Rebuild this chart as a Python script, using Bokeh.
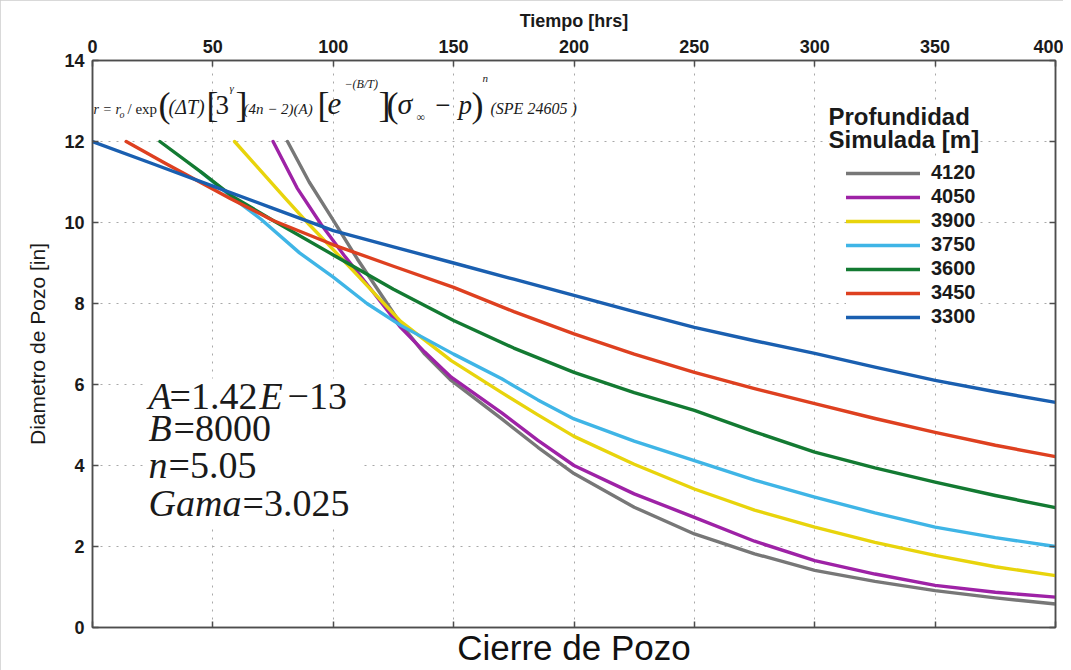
from bokeh.plotting import figure
from bokeh.models import (LinearAxis, FixedTicker, Legend, LegendItem, Label,
                          BoxAnnotation, Range1d)
from bokeh.embed import file_html
from bokeh.resources import INLINE

# ---------------- data ----------------
x_ticks = [0, 50, 100, 150, 200, 250, 300, 350, 400]
y_ticks = [0, 2, 4, 6, 8, 10, 12, 14]

depths = ["4120", "4050", "3900", "3750", "3600", "3450", "3300"]

x_4120 = [81, 90, 99, 110, 128, 138, 149, 170, 185, 200, 225, 250, 275, 300, 325, 350, 375, 400]
y_4120 = [12.0, 11.0, 10.15, 9.1, 7.5, 6.75, 6.1, 5.15, 4.45, 3.8, 2.97, 2.31, 1.82, 1.41, 1.14, 0.91, 0.73, 0.58]

x_4050 = [75, 85, 95, 105, 115, 128, 138, 149, 170, 185, 200, 225, 250, 275, 300, 325, 350, 375, 400]
y_4050 = [12.0, 10.85, 9.95, 9.15, 8.4, 7.41, 6.8, 6.18, 5.3, 4.62, 4.0, 3.3, 2.72, 2.13, 1.65, 1.32, 1.04, 0.87, 0.75]

x_3900 = [59, 70, 80, 90, 100, 110, 128, 149, 170, 185, 200, 225, 250, 275, 300, 325, 350, 375, 400]
y_3900 = [12.0, 11.27, 10.6, 9.95, 9.33, 8.7, 7.56, 6.59, 5.8, 5.25, 4.72, 4.03, 3.42, 2.9, 2.48, 2.1, 1.78, 1.5, 1.28]

x_3750 = [45, 58, 70, 86, 100, 114, 128, 150, 170, 185, 200, 225, 250, 275, 300, 325, 350, 375, 400]
y_3750 = [11.25, 10.62, 10.08, 9.25, 8.65, 8.0, 7.46, 6.75, 6.14, 5.62, 5.15, 4.6, 4.12, 3.64, 3.22, 2.83, 2.48, 2.22, 2.0]

x_3600 = [28, 45, 58, 75, 100, 125, 150, 175, 200, 225, 250, 275, 300, 325, 350, 375, 400]
y_3600 = [12.0, 11.25, 10.65, 10.05, 9.2, 8.35, 7.58, 6.9, 6.3, 5.8, 5.36, 4.83, 4.33, 3.94, 3.59, 3.26, 2.96]

x_3450 = [14, 30, 57, 75, 100, 125, 150, 175, 200, 225, 250, 275, 300, 325, 350, 375, 400]
y_3450 = [12.0, 11.47, 10.6, 10.05, 9.45, 8.92, 8.4, 7.8, 7.25, 6.75, 6.3, 5.9, 5.53, 5.16, 4.82, 4.5, 4.22]

x_3300 = [0, 25, 50, 75, 100, 125, 150, 175, 200, 225, 250, 275, 300, 325, 350, 375, 400]
y_3300 = [12.0, 11.45, 10.9, 10.35, 9.8, 9.4, 9.0, 8.6, 8.2, 7.8, 7.41, 7.08, 6.77, 6.43, 6.1, 5.82, 5.56]

series_x = [x_4120, x_4050, x_3900, x_3750, x_3600, x_3450, x_3300]
series_y = [y_4120, y_4050, y_3900, y_3750, y_3600, y_3450, y_3300]
colors = ["#777777", "#9e22a6", "#e8d40c", "#3fb5e6", "#137a32", "#de4020", "#1a5fb0"]

# ---------------- figure ----------------
W, H = 1063, 670
FL, FR, FT, FB = 92, 8, 60, 43   # borders (figure-relative)

p = figure(width=W, height=H, x_range=Range1d(0, 400), y_range=Range1d(0, 14),
           x_axis_location="above", output_backend="svg", toolbar_location=None,
           min_border_left=FL, min_border_right=FR, min_border_top=FT,
           min_border_bottom=FB, background_fill_color="white",
           border_fill_color="white")
p.outline_line_color = "#4d4d4d"
p.outline_line_width = 1.5

AX_COL = "#4d4d4d"
TICK_FONT = "Liberation Sans"


def style_axis(ax, ticks, labels=True):
    ax.ticker = FixedTicker(ticks=ticks)
    ax.axis_line_color = AX_COL
    ax.axis_line_width = 1.5
    ax.major_tick_line_color = AX_COL
    ax.major_tick_line_width = 1.5
    ax.major_tick_in = 6
    ax.major_tick_out = 0
    ax.minor_tick_line_color = None
    ax.major_label_text_font = TICK_FONT
    ax.major_label_text_font_style = "bold"
    if labels:
        ax.major_label_text_font_size = "18px"
        ax.major_label_text_color = "#1a1a1a"
    else:
        ax.major_label_text_font_size = "0px"
        ax.major_label_text_color = None
        ax.major_label_standoff = 0


# top axis (with labels)
top = p.xaxis[0]
style_axis(top, x_ticks)
top.major_label_standoff = 8
top.axis_label = "Tiempo [hrs]"
top.axis_label_text_font = TICK_FONT
top.axis_label_text_font_style = "bold"
top.axis_label_text_font_size = "18px"
top.axis_label_standoff = 6
top.axis_label_text_color = "#1a1a1a"

# left axis
left = p.yaxis[0]
style_axis(left, y_ticks)
left.major_label_standoff = 8
left.axis_label = "Diametro de Pozo [in]"
left.axis_label_text_font = TICK_FONT
left.axis_label_text_font_style = "normal"
left.axis_label_text_font_size = "21px"
left.axis_label_standoff = 12
left.axis_label_text_color = "#1a1a1a"

# bottom axis (no tick labels)
bottom = LinearAxis()
style_axis(bottom, x_ticks, labels=False)
bottom.axis_label = "Cierre de Pozo"
bottom.axis_label_text_font = TICK_FONT
bottom.axis_label_text_font_style = "normal"
bottom.axis_label_text_font_size = "35px"
bottom.axis_label_standoff = 0
bottom.axis_label_text_color = "#111111"
p.add_layout(bottom, "below")

# right axis (no tick labels)
right = LinearAxis()
style_axis(right, y_ticks, labels=False)
p.add_layout(right, "right")

# grid
p.xgrid.ticker = FixedTicker(ticks=x_ticks)
p.ygrid.ticker = FixedTicker(ticks=y_ticks)
for g in (p.xgrid, p.ygrid):
    g.grid_line_color = "#a8a8a8"
    g.grid_line_dash = "2 6"
    g.grid_line_width = 1

# ---------------- curves ----------------
renderers = []
for xs, ys, c in zip(series_x, series_y, colors):
    r = p.line(xs, ys, line_color=c, line_width=3.4, line_join="round", line_cap="round")
    renderers.append(r)

# ---------------- helpers for annotation placement (page px -> data) ----------------
PX0, PX1, PY0, PY1 = FL, W - FR, FT, H - FB


def dx(px):
    return (px - PX0) / (PX1 - PX0) * 400.0


def dy(py):
    return (PY1 - py) / (PY1 - PY0) * 14.0


def base(py, size):
    # compensate the rendered baseline offset of alphabetic text
    return dy(py - 0.32 * size)


# legend
legend = Legend(items=[LegendItem(label=d, renderers=[r]) for d, r in zip(depths, renderers)],
                location=(846 - PX0, PY1 - 328),
                label_text_font=TICK_FONT, label_text_font_style="bold",
                label_text_font_size="20px", label_text_color="#1a1a1a",
                glyph_width=74, glyph_height=20, label_height=20,
                label_standoff=11, spacing=1, padding=15, margin=0,
                border_line_color=None, background_fill_color="white",
                background_fill_alpha=1.0)
p.add_layout(legend, "center")

for txt, py in (("Profundidad", 124), ("Simulada [m]", 147)):
    p.add_layout(Label(x=dx(828), y=base(py, 24), text=txt, text_font=TICK_FONT,
                       text_font_style="bold", text_font_size="24px",
                       text_color="#1a1a1a", text_baseline="alphabetic",
                       background_fill_color="white", background_fill_alpha=1.0))

# parameter box
p.add_layout(BoxAnnotation(left=dx(145), right=dx(362), top=dy(378), bottom=dy(525),
                           fill_color="white", fill_alpha=1.0, line_color=None))

SERIF = "Liberation Serif"
params = [
    ("A", 148, 408, "italic"), ("=1.42", 169, 408, "normal"),
    ("E", 259, 408, "italic"), ("\u221213", 287, 408, "normal"),
    ("B", 148, 440, "italic"), ("=8000", 173, 440, "normal"),
    ("n", 148, 477, "italic"), ("=5.05", 168, 477, "normal"),
    ("Gama", 148, 515, "italic"), ("=3.025", 242, 515, "normal"),
]
for txt, px, py, st in params:
    p.add_layout(Label(x=dx(px), y=base(py, 38), text=txt, text_font=SERIF,
                       text_font_style=st, text_font_size="38px",
                       text_color="#1a1a1a", text_baseline="alphabetic"))

# formula
formula = [
    ("r = r", 93, 113, 14, "italic"),
    ("o", 119, 117, 10, "italic"),
    ("/ exp", 127, 113, 15, "normal"),
    ("(", 158, 116, 36, "normal"),
    ("(\u0394T)", 168, 113, 20, "italic"),
    ("[", 206, 116, 36, "normal"),
    ("3", 215, 113, 27, "normal"),
    ("\u03b3", 229, 91, 11, "italic"),
    ("]", 235, 116, 36, "normal"),
    ("(4n \u2212 2)(A)", 243, 113, 15, "italic"),
    ("[", 317, 116, 36, "normal"),
    ("e", 327, 113, 31, "italic"),
    ("\u2212(B/T)", 344, 87, 12, "italic"),
    ("]", 378, 116, 36, "normal"),
    ("(", 386, 116, 36, "normal"),
    ("\u03c3", 397, 113, 30, "italic"),
    ("\u221e", 416, 120, 12, "normal"),
    ("\u2212 p", 433, 113, 27, "italic"),
    (")", 471, 116, 36, "normal"),
    ("n", 482, 81, 11, "italic"),
    ("(SPE 24605 )", 490, 113, 16, "italic"),
]
for txt, px, py, sz, st in formula:
    p.add_layout(Label(x=dx(px), y=base(py, sz), text=txt, text_font=SERIF,
                       text_font_style=st, text_font_size=f"{sz}px",
                       text_color="#1a1a1a", text_baseline="alphabetic"))

p.styles = {"outline": "2px solid #cdcdcd", "outline-offset": "-2px"}

open("out.html", "w").write(file_html(p, INLINE))
